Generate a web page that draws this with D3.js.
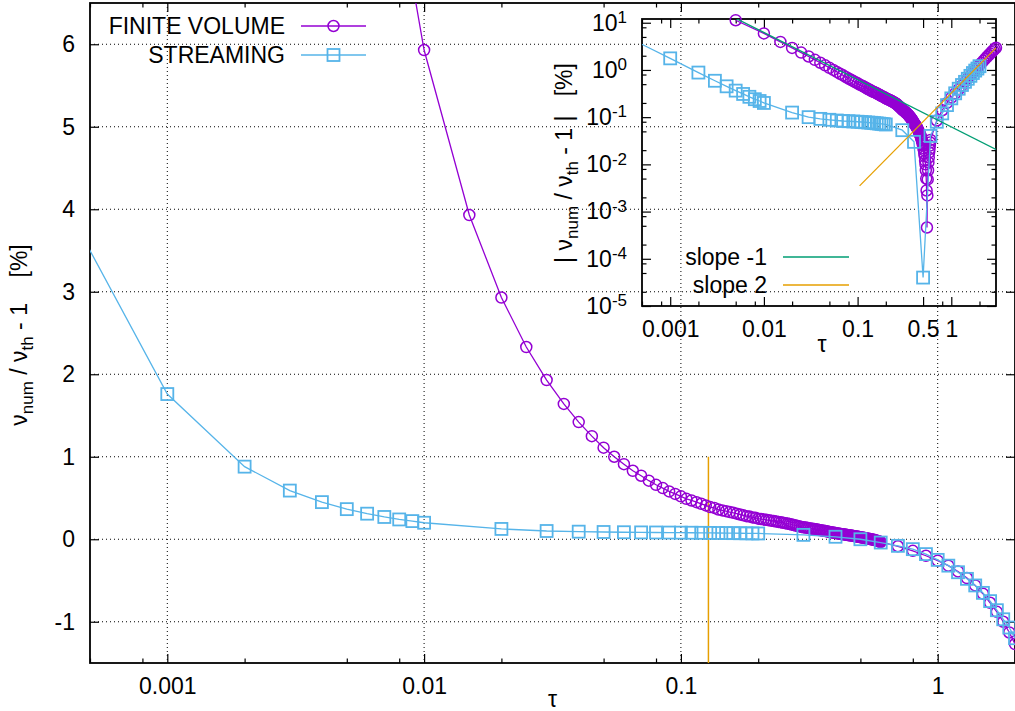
<!DOCTYPE html>
<html>
<head>
<meta charset="utf-8">
<script src="https://cdnjs.cloudflare.com/ajax/libs/d3/7.8.5/d3.min.js"></script>
<style>
  body { margin: 0; background: #fff; }
  svg { display: block; font-family: "Liberation Sans", Arial, sans-serif; }
</style>
</head>
<body>
<svg id="chart" width="1015" height="711"></svg>
<script>
//======
// Data
//======

// finite volume: tau and relative error (%)
var fvTau = [0.005, 0.01, 0.015, 0.02, 0.025, 0.03, 0.035, 0.04, 0.045, 0.05,
  0.055, 0.06, 0.065, 0.07, 0.075, 0.08, 0.085, 0.09, 0.095, 0.1,
  0.105, 0.11, 0.115, 0.12, 0.125, 0.13, 0.135, 0.14, 0.145, 0.15,
  0.155, 0.16, 0.165, 0.17, 0.175, 0.18, 0.185, 0.19, 0.195, 0.2,
  0.205, 0.21, 0.215, 0.22, 0.225, 0.23, 0.235, 0.24, 0.245, 0.25,
  0.255, 0.26, 0.265, 0.27, 0.275, 0.28, 0.285, 0.29, 0.295, 0.3,
  0.305, 0.31, 0.315, 0.32, 0.325, 0.33, 0.335, 0.34, 0.345, 0.35,
  0.355, 0.36, 0.365, 0.37, 0.375, 0.38, 0.385, 0.39, 0.395, 0.4,
  0.405, 0.41, 0.415, 0.42, 0.425, 0.43, 0.435, 0.44, 0.445, 0.45,
  0.455, 0.46, 0.465, 0.47, 0.475, 0.48, 0.485, 0.49, 0.495, 0.5,
  0.505, 0.51, 0.515, 0.52, 0.525, 0.53, 0.535, 0.54, 0.545, 0.55,
  0.555, 0.56, 0.565, 0.57, 0.575, 0.58, 0.585, 0.59, 0.595, 0.6,
  0.7, 0.8, 0.9, 1.0, 1.1, 1.2, 1.3, 1.4, 1.5, 1.6,
  1.7, 1.8, 1.9, 2.0, 2.1, 2.2, 2.3, 2.4, 2.5, 2.6,
  2.7, 2.8, 2.9, 3.0];
var fvValue = [11.3, 5.93, 3.93, 2.93, 2.33, 1.93, 1.64, 1.42, 1.25, 1.11,
  1.00, 0.91, 0.83, 0.77, 0.71, 0.66, 0.62, 0.58, 0.55, 0.52,
  0.49, 0.47, 0.45, 0.43, 0.41, 0.39, 0.38, 0.36, 0.35, 0.34,
  0.33, 0.32, 0.31, 0.30, 0.29, 0.28, 0.275, 0.265, 0.26, 0.25,
  0.245, 0.24, 0.235, 0.23, 0.225, 0.22, 0.215, 0.21, 0.205, 0.20,
  0.195, 0.19, 0.185, 0.178, 0.172, 0.166, 0.161, 0.156, 0.15, 0.145,
  0.141, 0.138, 0.134, 0.131, 0.127, 0.124, 0.12, 0.117, 0.113, 0.11,
  0.106, 0.103, 0.099, 0.096, 0.092, 0.089, 0.085, 0.082, 0.078, 0.075,
  0.072, 0.07, 0.067, 0.065, 0.062, 0.06, 0.057, 0.055, 0.052, 0.05,
  0.047, 0.045, 0.042, 0.04, 0.037, 0.035, 0.032, 0.03, 0.027, 0.025,
  0.022, 0.02, 0.017, 0.015, 0.012, 0.01, 0.0075, 0.005, 0.0028, 0.00046,
  -0.0022, -0.0048, -0.0075, -0.011, -0.014, -0.018, -0.021, -0.025, -0.029, -0.033,
  -0.085, -0.14, -0.2, -0.26, -0.32, -0.39, -0.47, -0.56, -0.66, -0.77,
  -0.88, -1.0, -1.13, -1.27, -1.41, -1.56, -1.72, -1.88, -2.05, -2.22,
  -2.4, -2.58, -2.77, -2.95];

// streaming: tau and relative error (%)
var stTau = [0.00049, 0.001, 0.002, 0.003, 0.004, 0.005, 0.006, 0.007, 0.008, 0.009,
  0.01, 0.02, 0.03, 0.04, 0.05, 0.06, 0.07, 0.08, 0.09, 0.1,
  0.11, 0.12, 0.13, 0.14, 0.15, 0.16, 0.17, 0.18, 0.19, 0.2,
  0.3, 0.4, 0.5, 0.6, 0.7, 0.8, 0.9, 1.0, 1.1, 1.2,
  1.3, 1.4, 1.5, 1.6, 1.7, 1.8, 1.9, 2.0];
var stValue = [3.55, 1.76, 0.88, 0.59, 0.45, 0.365, 0.31, 0.27, 0.24, 0.22,
  0.20, 0.125, 0.10, 0.092, 0.088, 0.085, 0.083, 0.082, 0.081, 0.080,
  0.079, 0.078, 0.077, 0.076, 0.075, 0.074, 0.073, 0.072, 0.071, 0.070,
  0.053, 0.030, 0.00004, -0.04, -0.08, -0.12, -0.18, -0.25, -0.32, -0.40,
  -0.48, -0.56, -0.65, -0.75, -0.86, -0.97, -1.07, -1.2];

// guide lines
var slopeMinus1Tau = [0.005, 3];
var slopeMinus1Value = [12.4, 0.0207];
var slope2Tau = [0.105, 3];
var slope2Value = [0.0035, 2.94];
var markLineTau = [0.128, 0.128];
var markLineValue = [-1.5, 1];

// ticks and labels
var mainXTicks = [0.001, 0.01, 0.1, 1];
var mainXLabels = ["0.001", "0.01", "0.1", "1"];
var mainYTicks = [-1, 0, 1, 2, 3, 4, 5, 6];
var insetXTicks = [0.001, 0.01, 0.1, 0.5, 1];
var insetXLabels = ["0.001", "0.01", "0.1", "0.5", "1"];
var insetYTicks = [1e-5, 1e-4, 1e-3, 1e-2, 1e-1, 1, 10];
var minorSteps = [2, 5, 8];

var seriesNames = ["FINITE VOLUME", "STREAMING"];
var slopeNames = ["slope -1", "slope 2"];

//=========
// Layout
//=========
var purple = "#9400d3", sky = "#56b4e9", green = "#009e73", orange = "#e69f00";
var fontSize = 23, subSize = 17;
var main = { left: 90, right: 1015, top: 3, bottom: 663 };
var inset = { left: 642, right: 996, top: 19, bottom: 306 };

var svg = d3.select("#chart");

var xMain = d3.scaleLog().domain([0.0005, 2]).range([main.left, main.right]);
var yMain = d3.scaleLinear().domain([-1.5, 6.5]).range([main.bottom, main.top]);
var xInset = d3.scaleLog().domain([0.0005, 3]).range([inset.left, inset.right]);
var yInset = d3.scaleLog().domain([1e-5, 12]).range([inset.bottom, inset.top]);

function pairs(xs, ys, f) {
  return xs.map(function(x, i) { return { x: x, y: f ? f(ys[i]) : ys[i] }; });
}

function minorTicks(domain, majors) {
  var out = [];
  for (var e = -5; e <= 1; e++) {
    minorSteps.forEach(function(m) {
      var v = m * Math.pow(10, e);
      var isMajor = majors.some(function(t) { return Math.abs(t / v - 1) < 1e-6; });
      if (v >= domain[0] && v <= domain[1] && !isMajor) out.push(v);
    });
  }
  return out;
}

var defs = svg.append("defs");
defs.append("clipPath").attr("id", "clipMain").append("rect")
  .attr("x", main.left).attr("y", main.top)
  .attr("width", main.right - main.left).attr("height", main.bottom - main.top);
defs.append("clipPath").attr("id", "clipInset").append("rect")
  .attr("x", inset.left).attr("y", inset.top)
  .attr("width", inset.right - inset.left).attr("height", inset.bottom - inset.top);

// axis helper: inward ticks, no domain path
function drawAxis(axis, tx, ty) {
  var g = svg.append("g").attr("transform", "translate(" + tx + "," + ty + ")").call(axis);
  g.select(".domain").remove();
  g.attr("font-size", fontSize).attr("font-family", null);
  g.selectAll(".tick line").attr("stroke-width", 1.2);
  return g;
}

function drawFrame(box, xs, ys, xMajors, yMajors, xLabels, yFormat, xMinors, yMinors) {
  var bottom = d3.axisBottom(xs).tickValues(xMajors).tickSizeInner(-9).tickSizeOuter(0)
    .tickPadding(15).tickFormat(function(d, i) { return xLabels[i]; });
  drawAxis(bottom, 0, box.bottom);
  drawAxis(d3.axisTop(xs).tickValues(xMajors).tickSizeInner(-9).tickSizeOuter(0).tickFormat(""), 0, box.top);
  drawAxis(d3.axisBottom(xs).tickValues(xMinors).tickSizeInner(-4.5).tickSizeOuter(0).tickFormat(""), 0, box.bottom);
  drawAxis(d3.axisTop(xs).tickValues(xMinors).tickSizeInner(-4.5).tickSizeOuter(0).tickFormat(""), 0, box.top);

  var left = drawAxis(d3.axisLeft(ys).tickValues(yMajors).tickSizeInner(-9).tickSizeOuter(0)
    .tickPadding(15).tickFormat(yFormat), box.left, 0);
  drawAxis(d3.axisRight(ys).tickValues(yMajors).tickSizeInner(-9).tickSizeOuter(0).tickFormat(""), box.right, 0);
  if (yMinors.length) {
    drawAxis(d3.axisLeft(ys).tickValues(yMinors).tickSizeInner(-4.5).tickSizeOuter(0).tickFormat(""), box.left, 0);
    drawAxis(d3.axisRight(ys).tickValues(yMinors).tickSizeInner(-4.5).tickSizeOuter(0).tickFormat(""), box.right, 0);
  }

  svg.append("rect")
    .attr("x", box.left).attr("y", box.top)
    .attr("width", box.right - box.left).attr("height", box.bottom - box.top)
    .attr("fill", "none").attr("stroke", "#000").attr("stroke-width", 1.8);
  return left;
}

function drawSeries(pts, xs, ys, color, shape, clipId) {
  var line = d3.line().x(function(d) { return xs(d.x); }).y(function(d) { return ys(d.y); });
  svg.append("path").datum(pts)
    .attr("clip-path", "url(#" + clipId + ")")
    .attr("d", line).attr("fill", "none").attr("stroke", color).attr("stroke-width", 1.3);

  var xd = xs.domain(), yd = ys.domain();
  var inside = pts.filter(function(d) {
    return d.x >= xd[0] && d.x <= xd[1] * 1.000001 && d.y >= yd[0] && d.y <= yd[1];
  });
  drawMarkers(svg.append("g"), inside.map(function(d) { return [xs(d.x), ys(d.y)]; }), color, shape);
}

function drawMarkers(g, xy, color, shape) {
  if (shape === "circle") {
    g.selectAll("circle").data(xy).enter().append("circle")
      .attr("cx", function(d) { return d[0]; }).attr("cy", function(d) { return d[1]; })
      .attr("r", 5.5).attr("fill", "none").attr("stroke", color).attr("stroke-width", 1.5);
  } else {
    g.selectAll("rect").data(xy).enter().append("rect")
      .attr("x", function(d) { return d[0] - 6; }).attr("y", function(d) { return d[1] - 6; })
      .attr("width", 12).attr("height", 12)
      .attr("fill", "none").attr("stroke", color).attr("stroke-width", 1.8);
  }
}

//============
// Main plot
//============
var grid = svg.append("g").attr("stroke", "#000").attr("stroke-width", 1).attr("stroke-dasharray", "1,3");
grid.selectAll(".gx").data(mainXTicks).enter().append("line")
  .attr("x1", function(d) { return xMain(d); }).attr("x2", function(d) { return xMain(d); })
  .attr("y1", main.top).attr("y2", main.bottom);
grid.selectAll(".gy").data(mainYTicks).enter().append("line")
  .attr("x1", main.left).attr("x2", main.right)
  .attr("y1", function(d) { return yMain(d); }).attr("y2", function(d) { return yMain(d); });

drawFrame(main, xMain, yMain, mainXTicks, mainYTicks, mainXLabels,
  function(d) { return String(d); }, minorTicks(xMain.domain(), mainXTicks), []);

var markLine = pairs(markLineTau, markLineValue);
svg.append("path").datum(markLine)
  .attr("d", d3.line().x(function(d) { return xMain(d.x); }).y(function(d) { return yMain(d.y); }))
  .attr("stroke", orange).attr("stroke-width", 1.5).attr("fill", "none");

drawSeries(pairs(fvTau, fvValue), xMain, yMain, purple, "circle", "clipMain");
drawSeries(pairs(stTau, stValue), xMain, yMain, sky, "square", "clipMain");

// main legend
seriesNames.forEach(function(name, i) {
  var y = 26 + i * 29;
  var color = i === 0 ? purple : sky;
  svg.append("text").attr("x", 285).attr("y", y).attr("dy", "0.35em")
    .attr("text-anchor", "end").attr("font-size", fontSize).text(name);
  svg.append("line").attr("x1", 301).attr("x2", 366).attr("y1", y).attr("y2", y)
    .attr("stroke", color).attr("stroke-width", 1.3);
  drawMarkers(svg.append("g"), [[333.5, y]], color, i === 0 ? "circle" : "square");
});

// main axis titles
svg.append("text").attr("x", (main.left + main.right) / 2).attr("y", 707)
  .attr("text-anchor", "middle").attr("font-size", fontSize).text("τ");

var ylab = svg.append("text").attr("transform", "translate(27,335) rotate(-90)")
  .attr("text-anchor", "middle").attr("font-size", fontSize).style("white-space", "pre");
ylab.append("tspan").text("ν");
ylab.append("tspan").attr("dy", 6).attr("font-size", subSize).text("num");
ylab.append("tspan").attr("dy", -6).text(" / ν");
ylab.append("tspan").attr("dy", 6).attr("font-size", subSize).text("th");
ylab.append("tspan").attr("dy", -6).text(" - 1    [%]");

//========
// Inset
//========
var insetLeft = drawFrame(inset, xInset, yInset, insetXTicks, insetYTicks, insetXLabels,
  function() { return ""; }, minorTicks(xInset.domain(), insetXTicks), minorTicks(yInset.domain(), insetYTicks));

insetLeft.selectAll(".tick text").each(function(d) {
  var t = d3.select(this);
  t.text("10");
  t.append("tspan").attr("dy", "-0.45em").attr("font-size", subSize)
    .text(String(Math.round(Math.log10(d))));
});

drawSeries(pairs(fvTau, fvValue, Math.abs), xInset, yInset, purple, "circle", "clipInset");
drawSeries(pairs(stTau, stValue, Math.abs), xInset, yInset, sky, "square", "clipInset");

var slopeLines = [pairs(slopeMinus1Tau, slopeMinus1Value), pairs(slope2Tau, slope2Value)];
var slopeColors = [green, orange];
slopeLines.forEach(function(pts, i) {
  svg.append("path").datum(pts)
    .attr("clip-path", "url(#clipInset)")
    .attr("d", d3.line().x(function(d) { return xInset(d.x); }).y(function(d) { return yInset(d.y); }))
    .attr("fill", "none").attr("stroke", slopeColors[i]).attr("stroke-width", 1.3);
});

// inset legend
slopeNames.forEach(function(name, i) {
  var y = 257 + i * 28;
  svg.append("text").attr("x", 767).attr("y", y).attr("dy", "0.35em")
    .attr("text-anchor", "end").attr("font-size", fontSize).text(name);
  svg.append("line").attr("x1", 783).attr("x2", 849).attr("y1", y).attr("y2", y)
    .attr("stroke", slopeColors[i]).attr("stroke-width", 1.3);
});

svg.append("text").attr("x", 822).attr("y", 352)
  .attr("text-anchor", "middle").attr("font-size", fontSize).text("τ");

var ylab2 = svg.append("text").attr("transform", "translate(572,163) rotate(-90)")
  .attr("text-anchor", "middle").attr("font-size", fontSize).style("white-space", "pre");
ylab2.append("tspan").text("| ν");
ylab2.append("tspan").attr("dy", 6).attr("font-size", subSize).text("num");
ylab2.append("tspan").attr("dy", -6).text(" / ν");
ylab2.append("tspan").attr("dy", 6).attr("font-size", subSize).text("th");
ylab2.append("tspan").attr("dy", -6).text(" - 1 |   [%]");
</script>
</body>
</html>
